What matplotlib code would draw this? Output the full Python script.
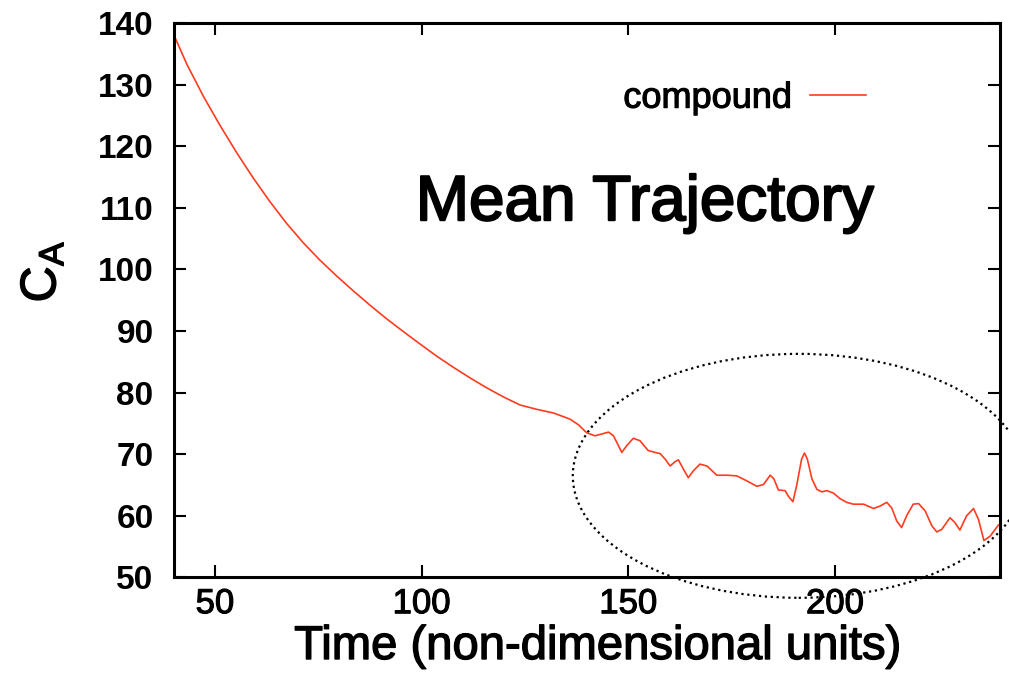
import numpy as np
import matplotlib as mpl
mpl.use("Agg")
import matplotlib.pyplot as plt
import matplotlib.patheffects as pe
from matplotlib.patches import Ellipse

mpl.rcParams.update({
    "font.family": ["Liberation Sans", "DejaVu Sans"],
    "mathtext.fontset": "custom",
    "mathtext.rm": "Liberation Sans",
    "mathtext.it": "Liberation Sans:italic",
})

RED = "#ff3b20"

# smooth decay part of the mean trajectory
t_decay = [39.9, 43.2, 47.2, 51.2, 55.3, 59.3, 63.3, 67.3, 71.4, 75.4, 79.5,
           83.5, 87.5, 91.5, 95.6, 99.6, 103.7, 107.7, 111.7, 115.7, 119.8,
           123.8, 127.8, 131.9]
c_decay = [138.3, 133.3, 128.1, 123.4, 118.9, 114.8, 111.0, 107.5, 104.3,
           101.5, 98.9, 96.5, 94.2, 92.0, 89.9, 87.9, 85.9, 84.1, 82.4, 80.8,
           79.3, 78.0, 77.3, 76.7]

# oscillating tail
t_tail = [135.9, 137.9, 139.9, 141.9, 143.6, 145.2, 146.4, 147.6, 148.4, 149.6,
          151.2, 152.8, 154.8, 156.5, 157.7, 158.9, 160.1, 161.3, 162.1, 163.3,
          164.5, 165.7, 167.3, 169.0, 171.4, 173.8, 176.2, 178.6, 181.1, 182.7,
          184.3, 185.2, 186.3, 187.9, 188.7, 189.8, 190.7, 191.9, 192.6, 193.3,
          194.4, 195.6, 196.8, 198.0, 199.6, 201.2, 202.8, 204.4, 206.9, 209.3,
          210.9, 212.5, 213.7, 214.9, 216.1, 217.3, 218.9, 220.2, 221.8, 223.4,
          224.6, 225.8, 227.8, 229.0, 230.2, 231.8, 233.5, 234.7, 236.0, 237.5,
          239.5, 240.0]
c_tail = [75.7, 74.8, 73.5, 73.0, 73.3, 73.6, 73.0, 71.4, 70.3, 71.4,
          72.6, 72.2, 70.6, 70.3, 70.1, 69.2, 68.1, 68.8, 69.1, 67.6,
          66.2, 67.3, 68.4, 68.1, 66.6, 66.6, 66.5, 65.7, 64.8, 65.1,
          66.6, 66.0, 64.2, 64.1, 63.2, 62.3, 64.9, 69.2, 70.2, 69.2,
          66.0, 64.3, 63.9, 64.1, 63.7, 62.8, 62.2, 61.9, 61.9, 61.2,
          61.6, 62.2, 61.3, 59.2, 58.1, 60.0, 61.9, 62.0, 60.8, 58.4,
          57.4, 57.8, 59.7, 58.9, 57.7, 60.0, 61.2, 59.4, 56.0, 56.7,
          58.5, 58.6]

x_ticks = [50, 100, 150, 200]
y_ticks = [50, 60, 70, 80, 90, 100, 110, 120, 130, 140]


def heavy(w):
    return [pe.withStroke(linewidth=w, foreground="black")]


fig = plt.figure(figsize=(10.09, 6.74), dpi=100)
ax = fig.add_axes([0.1721, 0.1432, 0.8194, 0.8226])

ax.plot(t_decay + t_tail, c_decay + c_tail, color=RED, lw=1.2, label="compound")

ax.set_xlim(40, 240)
ax.set_ylim(50, 140)
ax.set_xticks(x_ticks)
ax.set_yticks(y_ticks)
for sp in ax.spines.values():
    sp.set_linewidth(2.2)
ax.tick_params(direction="in", length=8.5, width=1.5, top=True, right=True)
ax.tick_params(axis="x", labelsize=25, pad=7)
ax.tick_params(axis="y", labelsize=24, pad=14.5)
for lb in ax.get_yticklabels():
    lb.set_fontweight("bold")
for lb in ax.get_xticklabels():
    lb.set_path_effects(heavy(0.8))

# dotted ellipse highlighting the oscillations
ax.add_patch(Ellipse((191.2, 66.5), 109.3, 39.6, fill=False, ec="black",
                     ls=":", lw=1.6, clip_on=False))

ax.text(154.0, 108.0, "Mean Trajectory", fontsize=46, ha="center",
        va="baseline", path_effects=heavy(1.5))

leg = ax.legend(loc="center right", bbox_to_anchor=(0.8374, 0.8645),
                frameon=False, markerfirst=False, fontsize=26,
                handlelength=1.55, handletextpad=0.5, borderpad=0,
                borderaxespad=0)
for tx in leg.get_texts():
    tx.set_path_effects(heavy(0.8))

fig.text(41.5 / 1009, 1 - 271.5 / 674, r"C$_{\mathrm{A}}$", fontsize=36,
         rotation=90, ha="center", va="center", path_effects=heavy(1.0))
fig.text(597.5 / 1009, 1 - 659 / 674, "Time (non-dimensional units)",
         fontsize=34, ha="center", va="baseline", path_effects=heavy(1.0))

fig.savefig("out.png", dpi=100)
